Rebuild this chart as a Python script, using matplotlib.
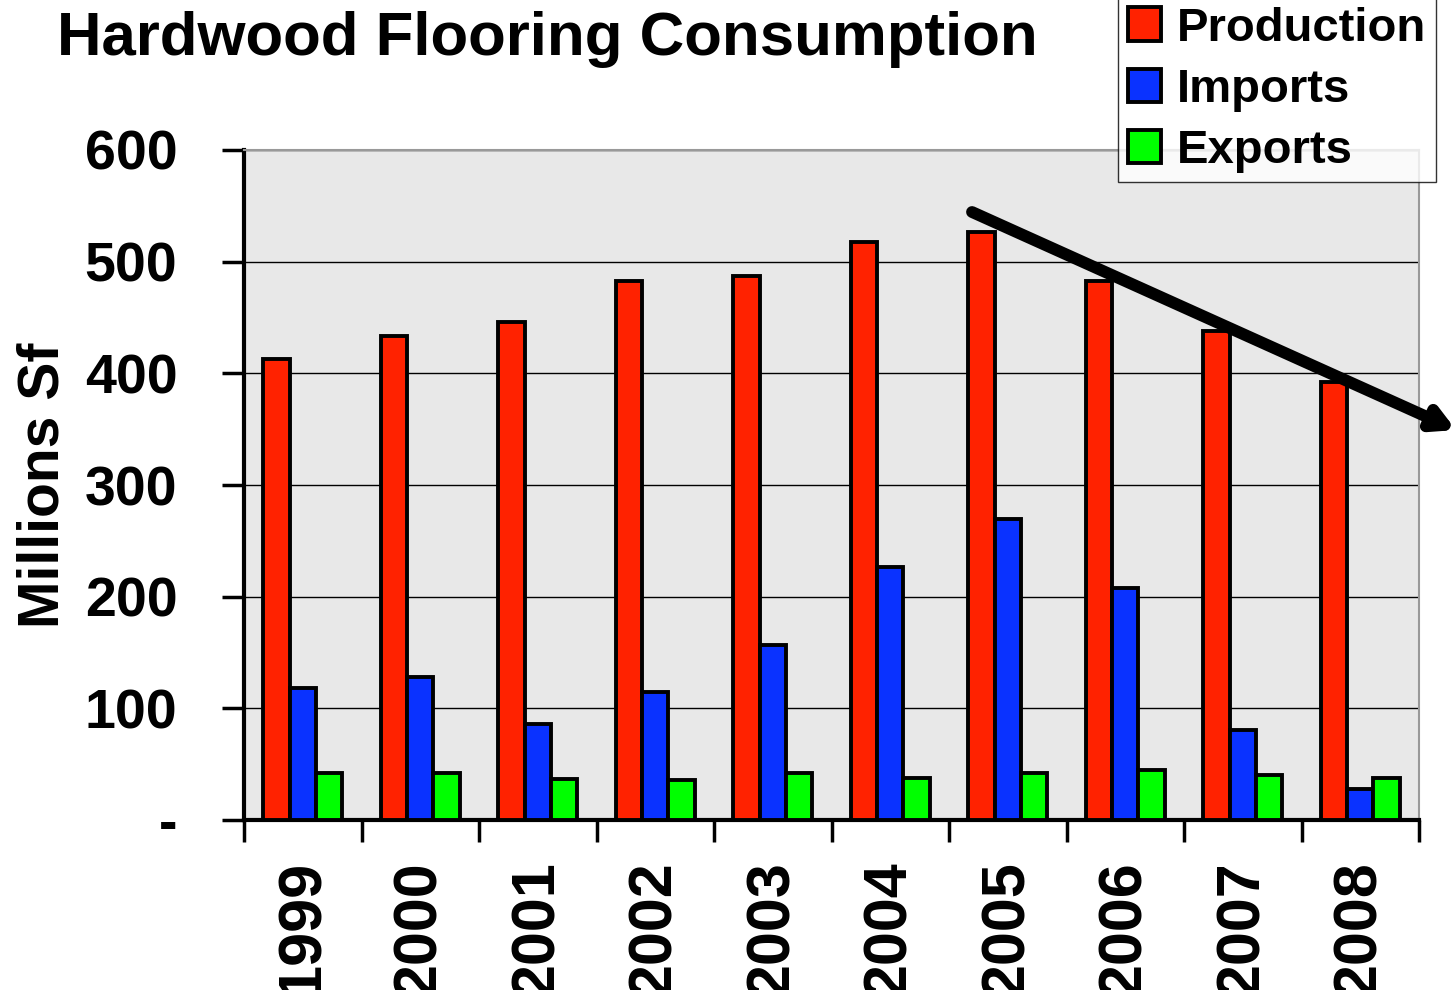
import matplotlib
matplotlib.use("Agg")
import matplotlib.pyplot as plt
import numpy as np

years = ["1999", "2000", "2001", "2002", "2003", "2004", "2005", "2006", "2007", "2008"]
production = [413, 433, 446, 483, 487, 518, 527, 483, 438, 392]
imports = [118, 128, 86, 115, 157, 227, 270, 208, 81, 28]
exports = [42, 42, 37, 36, 42, 38, 42, 45, 40, 38]
series_names = ["Production", "Imports", "Exports"]
series_colors = ["#FF2200", "#0A32FF", "#00FF00"]
y_ticks = [0, 100, 200, 300, 400, 500, 600]
y_tick_labels = ["-", "100", "200", "300", "400", "500", "600"]

plt.rcParams["font.family"] = ["Liberation Sans", "DejaVu Sans"]
plt.rcParams["font.weight"] = "bold"

fig = plt.figure(figsize=(14.56, 9.90), dpi=100)
ax = fig.add_axes([244 / 1456, 1 - 820 / 990, (1419 - 244) / 1456, (820 - 150) / 990])
ax.set_facecolor("#E8E8E8")

x = np.arange(len(years))
w = 0.225
for i, (vals, name, col) in enumerate(zip([production, imports, exports], series_names, series_colors)):
    ax.bar(x + (i - 1) * w, vals, width=w, color=col, edgecolor="black",
           linewidth=2.8, label=name, zorder=3)

ax.set_xlim(-0.5, len(years) - 0.5)
ax.set_ylim(0, 600)
ax.set_yticks(y_ticks)
ax.set_yticklabels(y_tick_labels, fontsize=40, fontweight="bold")
ax.yaxis.grid(True, color="black", linewidth=1.0, zorder=1)
ax.set_axisbelow(True)

ax.set_xticks(x)
ax.set_xticklabels(years, rotation=90, fontsize=44, fontweight="bold", va="top")
ax.tick_params(axis="x", which="major", length=0, pad=29)
ax.set_xticks(np.arange(-0.5, len(years)), minor=True)
ax.tick_params(axis="x", which="minor", length=16, width=2.5, direction="out")
ax.tick_params(axis="y", length=16, width=2.5, direction="out", pad=32)

for side in ["left", "bottom"]:
    ax.spines[side].set_linewidth(3)
    ax.spines[side].set_color("black")
for side in ["top", "right"]:
    ax.spines[side].set_linewidth(1.5)
    ax.spines[side].set_color("#999999")

ax.set_ylabel("Millions Sf", fontsize=41, fontweight="bold")
ax.yaxis.set_label_coords(71 / 1456, 1 - 485 / 990, transform=fig.transFigure)

fig.text(57 / 1456, 1 - 40 / 990, "Hardwood Flooring Consumption", fontsize=44.5,
         fontweight="bold", ha="left", va="center")

leg = ax.legend(loc="lower right", bbox_to_anchor=(1436 / 1456, 1 - 182 / 990), bbox_transform=fig.transFigure,
                fontsize=34, frameon=True, fancybox=False, edgecolor="black",
                handlelength=0.7, handleheight=0.7, handletextpad=0.35,
                borderpad=0.2, labelspacing=0.36, borderaxespad=0)
leg.get_frame().set_linewidth(1.0)
for t in leg.get_texts():
    t.set_fontweight("bold")

# downward trend arrow
ax.annotate("", xy=(1456 / 1456, 1 - 430 / 990), xycoords="figure fraction",
            xytext=(972 / 1456, 1 - 212 / 990), textcoords="figure fraction",
            arrowprops=dict(arrowstyle="-|>,head_length=1.2,head_width=0.65",
                            color="black", lw=8.5, shrinkA=0, shrinkB=0),
            annotation_clip=False, zorder=5)

fig.savefig("out.png", dpi=100)
